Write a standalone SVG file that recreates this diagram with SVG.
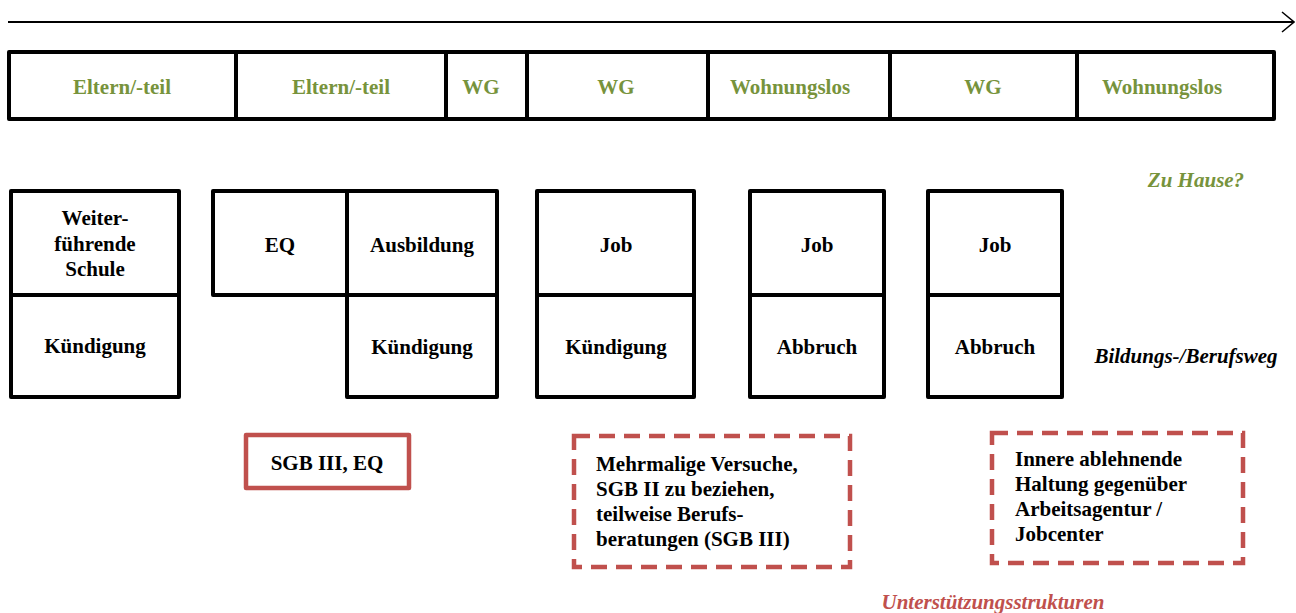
<svg xmlns="http://www.w3.org/2000/svg" width="1296" height="613" viewBox="0 0 1296 613">
<style>
.box{fill:#fff;stroke:#000;stroke-width:4;stroke-linejoin:round}
.ln{stroke:#000;stroke-width:4}
.t{font-family:"Liberation Serif","Times New Roman",serif;font-size:21px;font-weight:bold;text-anchor:middle}
.g{fill:#77933C}
.k{fill:#000}
.l{text-anchor:start}
.it{font-style:italic}
.red{fill:#C0504D}
.rs{fill:#fff;stroke:#C0504D;stroke-width:4.5;stroke-linejoin:round}
.rd{fill:#fff;stroke:#C0504D;stroke-width:4.5;stroke-dasharray:16 9}
</style>
<defs>
<marker id="open" markerWidth="14" markerHeight="22" refX="13" refY="11" orient="auto" markerUnits="userSpaceOnUse">
<path d="M1,1 L13,11 L1,21" fill="none" stroke="#000" stroke-width="1.5"/>
</marker>
</defs>
<g id="connectors">
<line x1="8" y1="22" x2="1294" y2="22" stroke="#000" stroke-width="1.8" marker-end="url(#open)"/>
</g>
<g id="timeline">
<rect class="box" x="9" y="52" width="1265" height="67"/>
<line class="ln" x1="236" y1="52" x2="236" y2="119"/>
<line class="ln" x1="446" y1="52" x2="446" y2="119"/>
<line class="ln" x1="527" y1="52" x2="527" y2="119"/>
<line class="ln" x1="708" y1="52" x2="708" y2="119"/>
<line class="ln" x1="890" y1="52" x2="890" y2="119"/>
<line class="ln" x1="1077" y1="52" x2="1077" y2="119"/>
<text class="t g" x="122" y="94">Eltern/-teil</text>
<text class="t g" x="341" y="94">Eltern/-teil</text>
<text class="t g" x="481" y="94">WG</text>
<text class="t g" x="616" y="94">WG</text>
<text class="t g" x="790" y="94">Wohnungslos</text>
<text class="t g" x="983" y="94">WG</text>
<text class="t g" x="1162" y="94">Wohnungslos</text>
</g>
<g id="node-schule">
<rect class="box" x="11" y="191" width="168" height="206"/>
<line class="ln" x1="11" y1="295" x2="179" y2="295"/>
<text class="t k" x="95" y="225">Weiter-</text>
<text class="t k" x="95" y="251">führende</text>
<text class="t k" x="95" y="276">Schule</text>
<text class="t k" x="95" y="353">Kündigung</text>
</g>
<g id="node-eq">
<rect class="box" x="213" y="191" width="134" height="104"/>
<text class="t k" x="280" y="252">EQ</text>
</g>
<g id="node-ausbildung">
<rect class="box" x="347" y="191" width="150" height="206"/>
<line class="ln" x1="347" y1="295" x2="497" y2="295"/>
<text class="t k" x="422" y="252">Ausbildung</text>
<text class="t k" x="422" y="354">Kündigung</text>
</g>
<g id="node-job1">
<rect class="box" x="537" y="191" width="157" height="206"/>
<line class="ln" x1="537" y1="295" x2="694" y2="295"/>
<text class="t k" x="616" y="252">Job</text>
<text class="t k" x="616" y="354">Kündigung</text>
</g>
<g id="node-job2">
<rect class="box" x="750" y="191" width="134" height="206"/>
<line class="ln" x1="750" y1="295" x2="884" y2="295"/>
<text class="t k" x="817" y="252">Job</text>
<text class="t k" x="817" y="354">Abbruch</text>
</g>
<g id="node-job3">
<rect class="box" x="928" y="191" width="134" height="206"/>
<line class="ln" x1="928" y1="295" x2="1062" y2="295"/>
<text class="t k" x="995" y="252">Job</text>
<text class="t k" x="995" y="354">Abbruch</text>
</g>
<g id="labels">
<text class="t g it" x="1196" y="187">Zu Hause?</text>
<text class="t k it" x="1186" y="363">Bildungs-/Berufsweg</text>
<text class="t red it" x="993" y="609">Unterstützungsstrukturen</text>
</g>
<g id="node-sgb3">
<rect class="rs" x="246" y="435" width="163" height="53"/>
<text class="t k" x="327" y="470">SGB III, EQ</text>
</g>
<g id="node-versuche">
<rect class="rd" x="574" y="436" width="276" height="131"/>
<text class="t k l" x="596" y="471">Mehrmalige Versuche,</text>
<text class="t k l" x="596" y="496">SGB II zu beziehen,</text>
<text class="t k l" x="596" y="521">teilweise Berufs-</text>
<text class="t k l" x="596" y="546">beratungen (SGB III)</text>
</g>
<g id="node-haltung">
<rect class="rd" x="992" y="433" width="251" height="130"/>
<text class="t k l" x="1015" y="466">Innere ablehnende</text>
<text class="t k l" x="1015" y="491">Haltung gegenüber</text>
<text class="t k l" x="1015" y="516">Arbeitsagentur /</text>
<text class="t k l" x="1015" y="541">Jobcenter</text>
</g>
</svg>
